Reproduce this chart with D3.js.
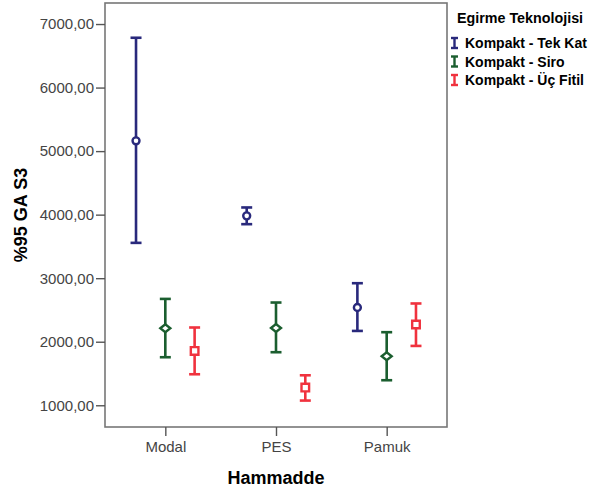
<!DOCTYPE html>
<html><head><meta charset="utf-8">
<script src="https://cdn.jsdelivr.net/npm/d3@7"></script>
<style>body{margin:0;background:#fff}svg{display:block}</style>
</head><body>
<script>
const categories = ["Modal", "PES", "Pamuk"];
const seriesNames = ["Kompakt - Tek Kat", "Kompakt - Siro", "Kompakt - Üç Fitil"];
const meanTek = [5162, 3981, 2538];
const lowTek = [3556, 3850, 2170];
const highTek = [6784, 4113, 2921];
const meanSiro = [2213, 2217, 1772];
const lowSiro = [1756, 1835, 1394];
const highSiro = [2674, 2617, 2150];
const meanUc = [1855, 1279, 2271];
const lowUc = [1488, 1074, 1934];
const highUc = [2224, 1472, 2602];
const yTicks = [1000, 2000, 3000, 4000, 5000, 6000, 7000];
const colors = ["#29297c", "#1b5e2f", "#f0323e"];
const shapes = ["circle", "diamond", "square"];

const W = 592, H = 493;
const L = 105, R = 447, T = 3, B = 427;
const svg = d3.select("body").append("svg").attr("width", W).attr("height", H);

const x = d3.scalePoint().domain(categories).range([L, R]).padding(0.545);
const off = d3.scalePoint().domain(seriesNames).range([-29.3, 29.3]);
const y = d3.scaleLinear().domain([658, 7331]).range([B, T]);

const data = [];
const means = [meanTek, meanSiro, meanUc], lows = [lowTek, lowSiro, lowUc], highs = [highTek, highSiro, highUc];
seriesNames.forEach((s, si) => categories.forEach((c, ci) => data.push({s, si, c, m: means[si][ci], lo: lows[si][ci], hi: highs[si][ci]})));

// frame
svg.append("rect").attr("x", L).attr("y", T).attr("width", R - L).attr("height", B - T)
  .attr("fill", "none").attr("stroke", "#777").attr("stroke-width", 1.6);

const fmt = v => d3.format(".2f")(v).replace(".", ",");
const yAxis = svg.append("g").attr("transform", `translate(${L},0)`)
  .call(d3.axisLeft(y).tickValues(yTicks).tickFormat(fmt).tickSize(9).tickPadding(2));
const xAxis = svg.append("g").attr("transform", `translate(0,${B})`)
  .call(d3.axisBottom(x).tickSize(9).tickPadding(5));
[yAxis, xAxis].forEach(a => {
  a.select(".domain").remove();
  a.selectAll("line").attr("stroke", "#555").attr("stroke-width", 1.4);
  a.selectAll("text").attr("fill", "#444").style("font-family", "Liberation Sans, Arial, sans-serif").style("font-size", "15px");
});

const g = svg.append("g");
const markerPath = {
  circle: d3.symbol().type(d3.symbolCircle).size(38)(),
  diamond: "M-5,0L0,-4L5,0L0,4Z",
  square: "M-3.8,-3.8H3.8V3.8H-3.8Z"
};
data.forEach(d => {
  const cx = x(d.c) + off(d.s), col = colors[d.si];
  const gg = g.append("g").attr("stroke", col).attr("stroke-width", 2.6).attr("fill", "none");
  gg.append("line").attr("x1", cx).attr("x2", cx).attr("y1", y(d.lo)).attr("y2", y(d.hi));
  gg.append("line").attr("x1", cx - 5.5).attr("x2", cx + 5.5).attr("y1", y(d.lo)).attr("y2", y(d.lo));
  gg.append("line").attr("x1", cx - 5.5).attr("x2", cx + 5.5).attr("y1", y(d.hi)).attr("y2", y(d.hi));
  gg.append("path").attr("d", markerPath[shapes[d.si]])
    .attr("transform", `translate(${cx},${y(d.m)})`).attr("fill", "#fff").attr("stroke-width", 2.4);
});

// axis titles
svg.append("text").attr("x", 276).attr("y", 484).attr("text-anchor", "middle")
  .style("font-family", "Liberation Sans, Arial, sans-serif").style("font-weight", "bold").style("font-size", "18px").text("Hammadde");
svg.append("text").attr("transform", "translate(27,215) rotate(-90)").attr("text-anchor", "middle")
  .style("font-family", "Liberation Sans, Arial, sans-serif").style("font-weight", "bold").style("font-size", "18px").text("%95 GA S3");

// legend
const lg = svg.append("g").style("font-family", "Liberation Sans, Arial, sans-serif");
lg.append("text").attr("x", 457).attr("y", 23).style("font-weight", "bold").style("font-size", "14.3px").text("Egirme Teknolojisi");
seriesNames.forEach((s, i) => {
  const yy = 43 + i * 18.5;
  const ig = lg.append("g").attr("stroke", colors[i]).attr("stroke-width", 2.4);
  ig.append("line").attr("x1", 454.5).attr("x2", 454.5).attr("y1", yy - 5).attr("y2", yy + 5);
  ig.append("line").attr("x1", 451).attr("x2", 458).attr("y1", yy - 5).attr("y2", yy - 5);
  ig.append("line").attr("x1", 451).attr("x2", 458).attr("y1", yy + 5).attr("y2", yy + 5);
  lg.append("text").attr("x", 465).attr("y", yy + 5).style("font-weight", "bold").style("font-size", "14px").text(s);
});
</script>
</body></html>
